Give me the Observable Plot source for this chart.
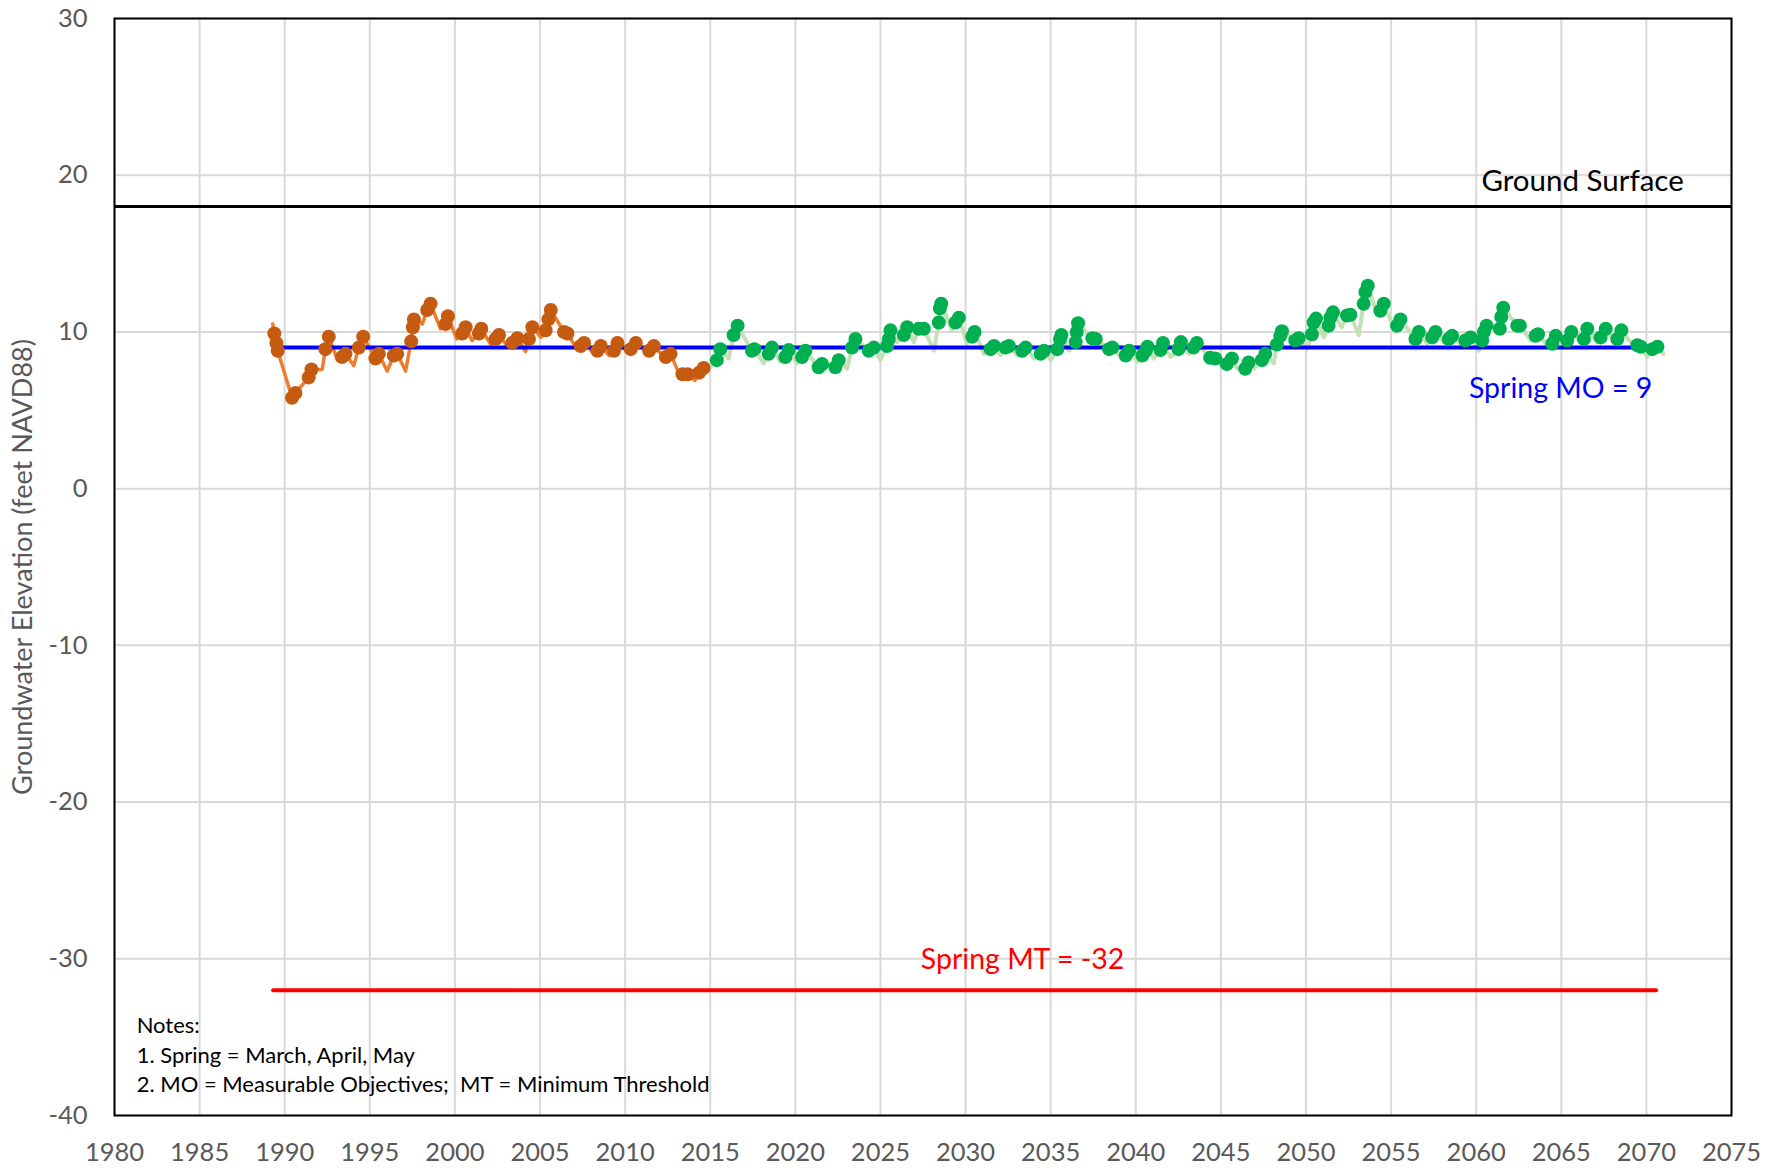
<!DOCTYPE html>
<html>
<head>
<meta charset="utf-8">
<script src="https://cdn.jsdelivr.net/npm/d3@7"></script>
<script src="https://cdn.jsdelivr.net/npm/@observablehq/plot@0.6"></script>
<style>
  html, body { margin: 0; padding: 0; background: #fff; }
  #chart svg { display: block; }
</style>
</head>
<body>
<div id="chart"></div>
<script>
// ---- Data ----
const xTicks = [1980, 1985, 1990, 1995, 2000, 2005, 2010, 2015, 2020, 2025, 2030, 2035, 2040, 2045, 2050, 2055, 2060, 2065, 2070, 2075];
const yTicks = [-40, -30, -20, -10, 0, 10, 20, 30];

const groundSurface = 18;
const springMO = 9;
const springMT = -32;
const moSpan = [1989.85, 2070.5];
const mtSpan = [1989.35, 2070.6];

// Historical spring measurements (markers)
const histSpringYear = [1989.39, 1989.51, 1989.59, 1990.43, 1990.63, 1991.41, 1991.57, 1992.39, 1992.59, 1993.37, 1993.57,
  1994.35, 1994.61, 1995.33, 1995.53, 1996.41, 1996.61, 1997.43, 1997.53, 1997.59, 1998.37, 1998.57, 1999.45, 1999.59,
  2000.43, 2000.63, 2001.41, 2001.55, 2002.39, 2002.59, 2003.37, 2003.67, 2004.35, 2004.55, 2005.33, 2005.49, 2005.63,
  2006.41, 2006.61, 2007.39, 2007.59, 2008.37, 2008.57, 2009.35, 2009.55, 2010.33, 2010.63, 2011.41, 2011.69,
  2012.39, 2012.67, 2013.37, 2013.67, 2014.35, 2014.61];
const histSpringLevel = [9.9, 9.3, 8.8, 5.8, 6.1, 7.1, 7.6, 8.9, 9.7, 8.4, 8.6,
  9.0, 9.7, 8.3, 8.6, 8.5, 8.6, 9.4, 10.3, 10.8, 11.4, 11.8, 10.5, 11.0,
  9.9, 10.3, 9.9, 10.2, 9.55, 9.8, 9.3, 9.6, 9.55, 10.3, 10.1, 10.8, 11.4,
  10.0, 9.9, 9.1, 9.3, 8.8, 9.1, 8.8, 9.3, 8.9, 9.3, 8.8, 9.1,
  8.4, 8.6, 7.3, 7.3, 7.4, 7.7];

// Historical non-spring measurements (line only)
const histOtherYear = [1989.30, 1992.20, 1993.10, 1994.06, 1996.02, 1997.10, 1998.08, 1999.15, 2000.10, 2001.00,
  2002.10, 2003.08, 2004.15, 2005.05, 2007.20, 2008.10, 2009.05, 2010.05, 2011.10, 2012.20, 2013.10, 2014.10, 2014.85];
const histOtherLevel = [10.5, 7.6, 8.2, 7.85, 7.5, 7.5, 10.5, 10.2, 9.55, 9.45,
  9.2, 9.1, 8.75, 9.65, 8.85, 8.7, 8.5, 8.8, 8.9, 8.5, 7.5, 6.9, 7.9];

// Projected spring values (markers)
const simSpringYear = [2015.39, 2015.59, 2016.37, 2016.61, 2017.45, 2017.59, 2018.43, 2018.63, 2019.41, 2019.61,
  2020.39, 2020.59, 2021.37, 2021.57, 2022.35, 2022.55, 2023.33, 2023.53, 2024.31, 2024.61,
  2025.39, 2025.49, 2025.59, 2026.37, 2026.57, 2027.25, 2027.55, 2028.43, 2028.49, 2028.57,
  2029.41, 2029.61, 2030.39, 2030.53, 2031.47, 2031.67, 2032.35, 2032.55, 2033.33, 2033.53,
  2034.41, 2034.61, 2035.39, 2035.55, 2035.63, 2036.47, 2036.53, 2036.61, 2037.45, 2037.65,
  2038.43, 2038.63, 2039.41, 2039.61, 2040.39, 2040.59, 2040.69, 2041.45, 2041.6,
  2042.51, 2042.65, 2043.39, 2043.59, 2044.37, 2044.67, 2045.35, 2045.65, 2046.43, 2046.63,
  2047.41, 2047.61, 2048.29, 2048.49, 2048.59, 2049.37, 2049.57, 2050.35, 2050.45, 2050.59,
  2051.33, 2051.43, 2051.59, 2052.41, 2052.61, 2053.39, 2053.49, 2053.63, 2054.37, 2054.57,
  2055.35, 2055.55, 2056.43, 2056.63, 2057.41, 2057.61, 2058.39, 2058.59, 2059.37, 2059.67,
  2060.35, 2060.45, 2060.61, 2061.39, 2061.47, 2061.59, 2062.41, 2062.57, 2063.49, 2063.63,
  2064.47, 2064.67, 2065.35, 2065.59, 2066.33, 2066.53, 2067.31, 2067.61, 2068.29, 2068.53,
  2069.47, 2069.67, 2070.35, 2070.65];
const simSpringLevel = [8.2, 8.9, 9.8, 10.4, 8.8, 8.9, 8.6, 9.0, 8.4, 8.85,
  8.4, 8.8, 7.75, 7.95, 7.75, 8.2, 9.0, 9.55, 8.8, 9.0,
  9.1, 9.55, 10.1, 9.8, 10.3, 10.2, 10.2, 10.6, 11.5, 11.8,
  10.6, 10.9, 9.7, 10.0, 8.9, 9.1, 9.0, 9.1, 8.8, 9.0,
  8.6, 8.8, 8.9, 9.55, 9.8, 9.35, 10.0, 10.55, 9.6, 9.55,
  8.9, 9.0, 8.5, 8.8, 8.5, 8.8, 9.05, 8.85, 9.3,
  8.9, 9.35, 9.0, 9.3, 8.35, 8.3, 7.95, 8.3, 7.65, 8.05,
  8.2, 8.6, 9.2, 9.75, 10.05, 9.45, 9.6, 9.85, 10.6, 10.85,
  10.4, 10.9, 11.25, 11.05, 11.1, 11.8, 12.55, 12.95, 11.35, 11.8,
  10.4, 10.8, 9.55, 10.0, 9.65, 10.0, 9.55, 9.75, 9.45, 9.65,
  9.45, 10.0, 10.4, 10.2, 10.95, 11.55, 10.4, 10.4, 9.75, 9.85,
  9.25, 9.75, 9.45, 10.0, 9.55, 10.2, 9.65, 10.2, 9.55, 10.1,
  9.15, 9.05, 8.9, 9.05];

// Projected non-spring values (line only)
const simOtherYear = [2014.90, 2016.08, 2018.14, 2019.12, 2020.10, 2023.04, 2025.00, 2025.98, 2026.96, 2028.14,
  2029.20, 2030.10, 2031.08, 2032.06, 2033.04, 2034.02, 2035.00, 2036.08, 2039.20, 2040.10,
  2041.07, 2042.05, 2043.12, 2045.00, 2045.97, 2046.95, 2048.12, 2050.07, 2051.05, 2052.10,
  2053.10, 2054.18, 2055.26, 2057.12, 2058.10, 2059.08, 2060.16, 2063.20, 2064.30, 2065.25,
  2066.13, 2067.10, 2068.10, 2068.97, 2070.05, 2071.00];
const simOtherLevel = [7.65, 8.3, 8.0, 8.1, 8.0, 7.65, 8.2, 9.35, 9.35, 8.8,
  10.1, 9.25, 8.6, 8.5, 8.5, 8.3, 8.2, 8.8, 8.3, 8.1,
  8.3, 8.4, 8.6, 7.9, 7.65, 7.65, 8.0, 8.9, 9.65, 10.3,
  9.8, 11.15, 10.0, 9.25, 9.35, 9.25, 8.8, 9.45, 9.0, 9.1,
  9.35, 9.35, 9.45, 9.45, 8.4, 8.6];

const notes = ["Notes:", "1. Spring = March, April, May", "2. MO = Measurable Objectives;  MT = Minimum Threshold"];

// ---- Tables built from the arrays ----
const zip = (xs, ys) => xs.map((x, i) => ({year: x, level: ys[i]}));
const histSpring = zip(histSpringYear, histSpringLevel);
const histLine = histSpring.concat(zip(histOtherYear, histOtherLevel)).sort((a, b) => a.year - b.year);
const simSpring = zip(simSpringYear, simSpringLevel);
const simLine = simSpring.concat(zip(simOtherYear, simOtherLevel)).sort((a, b) => a.year - b.year);

const FONT = "Lato, 'Open Sans', sans-serif";
const GRAY = "#595959";

const chart = Plot.plot({
  width: 1782,
  height: 1170,
  marginLeft: 114,
  marginRight: 51,
  marginTop: 18,
  marginBottom: 55,
  style: {fontFamily: FONT, background: "#fff", color: GRAY},
  x: {domain: [1980, 2075], label: null},
  y: {domain: [-40, 30], label: null},
  marks: [
    Plot.gridX(xTicks, {stroke: "#D9D9D9", strokeOpacity: 1, strokeWidth: 2}),
    Plot.gridY(yTicks, {stroke: "#D9D9D9", strokeOpacity: 1, strokeWidth: 2}),
    Plot.axisX({ticks: xTicks, tickFormat: d => String(d), tickSize: 0, tickPadding: 27, fontSize: 25.5, fill: GRAY}),
    Plot.axisY({ticks: yTicks, tickSize: 0, tickPadding: 27, fontSize: 25.5, fill: GRAY, tickFormat: d => String(d)}),
    Plot.text(["Groundwater Elevation (feet NAVD88)"], {frameAnchor: "left", rotate: -90, dx: -91, fontSize: 27, fill: GRAY, textAnchor: "middle"}),
    Plot.ruleY([groundSurface], {stroke: "#000", strokeWidth: 3}),
    Plot.ruleY([springMT], {x1: mtSpan[0], x2: mtSpan[1], stroke: "#FF0000", strokeWidth: 4, strokeLinecap: "round"}),
    Plot.line(histLine, {x: "year", y: "level", stroke: "#ED7D31", strokeWidth: 3.5, curve: "linear"}),
    Plot.line(simLine, {x: "year", y: "level", stroke: "#C5E0B4", strokeWidth: 4, curve: "linear"}),
    Plot.ruleY([springMO], {x1: moSpan[0], x2: moSpan[1], stroke: "#0000FF", strokeWidth: 4}),
    Plot.dot(histSpring, {x: "year", y: "level", r: 7, fill: "#C55A11", stroke: "none"}),
    Plot.dot(simSpring, {x: "year", y: "level", r: 7, fill: "#00B050", stroke: "none"}),
    Plot.frame({stroke: "#000", strokeWidth: 2}),
    Plot.text(["Ground Surface"], {x: 2066.25, y: 19.6, fontSize: 29.5, fill: "#000", textAnchor: "middle"}),
    Plot.text(["Spring MO = 9"], {x: 2064.96, y: 6.35, fontSize: 28.5, fill: "#0000FF", textAnchor: "middle"}),
    Plot.text(["Spring MT = -32"], {x: 2033.35, y: -30.05, fontSize: 28.5, fill: "#FF0000", textAnchor: "middle"}),
    Plot.text(notes, {x: 1981.3, y: (d, i) => [-34.28, -36.17, -38.05][i], fontSize: 22, fill: "#000", textAnchor: "start"})
  ]
});

document.getElementById("chart").appendChild(chart);
</script>
</body>
</html>
